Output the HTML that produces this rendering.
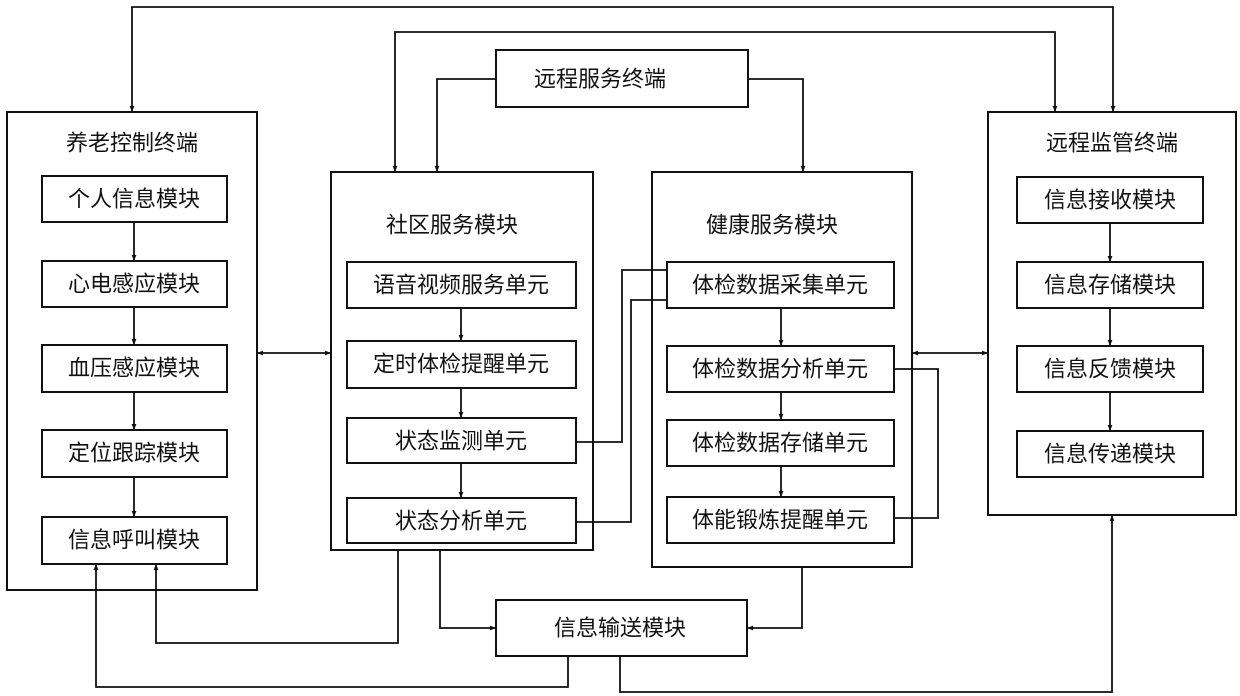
<!DOCTYPE html>
<html><head><meta charset="utf-8"><style>
html,body{margin:0;padding:0;background:#fff;}
svg{display:block}
text{font-family:"Liberation Sans","WenQuanYi Zen Hei","Noto Sans CJK SC",sans-serif;font-size:22px;fill:#111;text-anchor:middle;dominant-baseline:central}
</style></head><body>
<svg width="1240" height="696" viewBox="0 0 1240 696" xmlns="http://www.w3.org/2000/svg">
<defs>
<marker id="a" viewBox="0 0 10 10" refX="10" refY="5" markerWidth="6" markerHeight="6" orient="auto-start-reverse" markerUnits="userSpaceOnUse"><path d="M0,1 L10,5 L0,9 z" fill="#111"/></marker>
</defs>
<g fill="none" stroke="#111" stroke-width="2">
<!-- outer boxes -->
<rect x="7" y="112" width="250" height="478"/>
<rect x="331" y="172" width="262" height="378"/>
<rect x="652" y="172" width="260" height="395"/>
<rect x="988" y="112" width="248" height="403"/>
<rect x="496" y="50" width="252" height="57"/>
<rect x="496" y="600" width="251" height="56"/>
<!-- left inner -->
<rect x="42" y="176" width="185" height="46"/>
<rect x="42" y="261" width="185" height="46"/>
<rect x="42" y="345" width="185" height="47"/>
<rect x="42" y="430" width="185" height="47"/>
<rect x="42" y="517" width="185" height="47"/>
<!-- community inner -->
<rect x="347" y="262" width="229" height="46"/>
<rect x="347" y="341" width="229" height="47"/>
<rect x="347" y="418" width="229" height="45"/>
<rect x="347" y="498" width="229" height="45"/>
<!-- health inner -->
<rect x="667" y="262" width="227" height="46"/>
<rect x="667" y="346" width="227" height="46"/>
<rect x="667" y="420" width="227" height="46"/>
<rect x="667" y="497" width="227" height="46"/>
<!-- right inner -->
<rect x="1017" y="177" width="186" height="46"/>
<rect x="1017" y="262" width="186" height="46"/>
<rect x="1017" y="346" width="186" height="46"/>
<rect x="1017" y="431" width="186" height="46"/>
</g>
<g fill="none" stroke="#111" stroke-width="1.8">
<!-- vertical internal arrows -->
<path d="M134 222V261" marker-end="url(#a)"/>
<path d="M134 307V345" marker-end="url(#a)"/>
<path d="M134 392V430" marker-end="url(#a)"/>
<path d="M134 477V517" marker-end="url(#a)"/>
<path d="M461 308V341" marker-end="url(#a)"/>
<path d="M461 388V418" marker-end="url(#a)"/>
<path d="M461 463V498" marker-end="url(#a)"/>
<path d="M781 308V346" marker-end="url(#a)"/>
<path d="M781 392V420" marker-end="url(#a)"/>
<path d="M781 466V497" marker-end="url(#a)"/>
<path d="M1110 223V262" marker-end="url(#a)"/>
<path d="M1110 308V346" marker-end="url(#a)"/>
<path d="M1110 392V431" marker-end="url(#a)"/>
<!-- top lines -->
<path d="M1113 112V7H132V112" marker-end="url(#a)" marker-start="url(#a)"/>
<path d="M1055 112V32H395V172" marker-end="url(#a)" marker-start="url(#a)"/>
<path d="M496 79H437V172" marker-end="url(#a)"/>
<path d="M748 79H803V172" marker-end="url(#a)"/>
<!-- bidirectional -->
<path d="M257 353H331" marker-end="url(#a)" marker-start="url(#a)"/>
<path d="M912 353H988" marker-end="url(#a)" marker-start="url(#a)"/>
<!-- cross connections -->
<path d="M576 442H622V270H667"/>
<path d="M576 522H631V300H667"/>
<path d="M894 369H938V518H894"/>
<!-- bottom -->
<path d="M398 550V643H156V564" marker-end="url(#a)"/>
<path d="M440 550V628H496" marker-end="url(#a)"/>
<path d="M802 567V628H747" marker-end="url(#a)"/>
<path d="M568 656V687H96V564" marker-end="url(#a)"/>
<path d="M620 656V692H1112V515" marker-end="url(#a)"/>
</g>
<g>
<text x="132" y="143">养老控制终端</text>
<text x="134" y="199">个人信息模块</text>
<text x="134" y="284">心电感应模块</text>
<text x="134" y="368">血压感应模块</text>
<text x="134" y="453">定位跟踪模块</text>
<text x="134" y="540">信息呼叫模块</text>
<text x="452" y="225">社区服务模块</text>
<text x="461" y="285">语音视频服务单元</text>
<text x="461" y="364">定时体检提醒单元</text>
<text x="461" y="441">状态监测单元</text>
<text x="461" y="521">状态分析单元</text>
<text x="772" y="225">健康服务模块</text>
<text x="780" y="285">体检数据采集单元</text>
<text x="780" y="369">体检数据分析单元</text>
<text x="780" y="443">体检数据存储单元</text>
<text x="780" y="520">体能锻炼提醒单元</text>
<text x="1112" y="143">远程监管终端</text>
<text x="1110" y="200">信息接收模块</text>
<text x="1110" y="285">信息存储模块</text>
<text x="1110" y="369">信息反馈模块</text>
<text x="1110" y="454">信息传递模块</text>
<text x="600" y="79">远程服务终端</text>
<text x="620" y="628">信息输送模块</text>
</g>
</svg>
</body></html>
